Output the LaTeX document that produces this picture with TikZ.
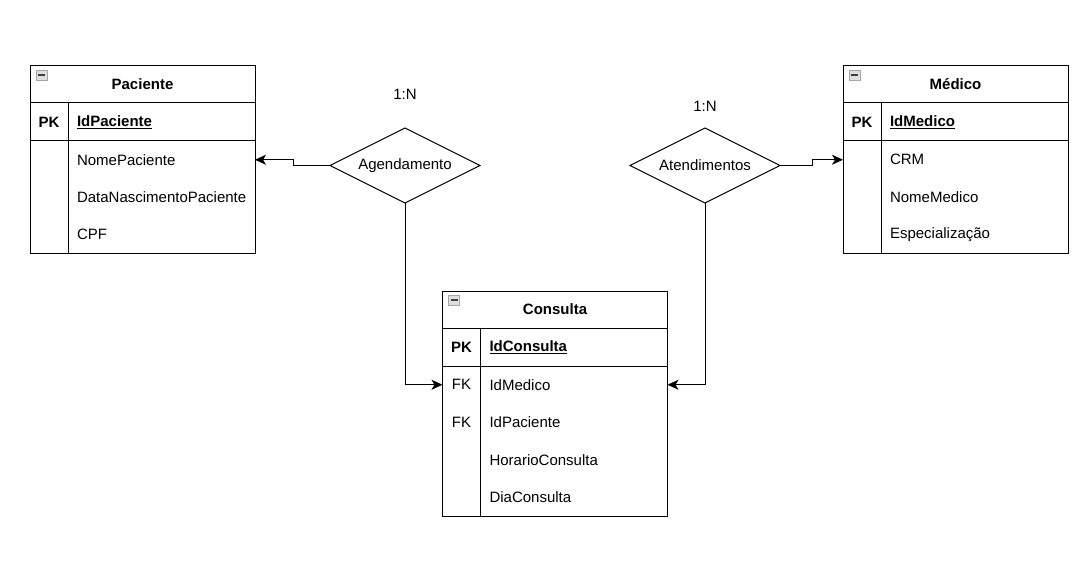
\documentclass[tikz,border=0pt]{standalone}
\usepackage{fontspec}
\setmainfont{Liberation Sans}
\usetikzlibrary{positioning,shapes.geometric,arrows.meta}

\begin{document}
\begin{tikzpicture}[x=1pt, y=-1pt, line width=1pt,
  every node/.style={font=\fontsize{15}{18}\selectfont, inner sep=0pt, outer sep=0pt},
  title/.style={draw, minimum width=225pt, minimum height=37pt, font=\fontsize{15}{18}\selectfont\bfseries},
  keycell/.style={minimum width=38pt, minimum height=37.5pt},
  pkcell/.style={keycell, minimum height=38pt, font=\fontsize{15}{18}\selectfont\bfseries},
  field/.style={text width=178pt, minimum height=37.5pt, align=left},
  pkfield/.style={field, minimum height=38pt, font=\fontsize{15}{18}\selectfont\bfseries},
  icon/.style={draw=gray!70, fill=gray!25, minimum width=11pt, minimum height=10pt, line width=0.6pt,
    path picture={\draw[gray!50!black, line width=2pt] ([xshift=2pt]path picture bounding box.west) -- ([xshift=-2pt]path picture bounding box.east);}},
  rel/.style={draw, diamond, aspect=2, minimum width=150pt, minimum height=75pt},
  conn/.style={-{Stealth[length=11pt,width=10pt,inset=3pt]}}]
\useasboundingbox (0,0) rectangle (1090,583);

% Paciente
\node[title] (pac) at (142.5,84.5) {Paciente};
\node[icon] (paci) [below right=4pt and 6pt of pac.north west] {};
\node[pkcell] (pacpk) [below right=0pt and 0pt of pac.south west] {PK};
\node[pkfield] (pacid) [right=9pt of pacpk] {\underline{IdPaciente}};
\node[field] (pacnome) [below=0pt of pacid] {NomePaciente};
\node[field] (pacdata) [below=0pt of pacnome] {DataNascimentoPaciente};
\node[field] (paccpf) [below=0pt of pacdata] {CPF};
\draw (pac.north west) rectangle (paccpf.south east);
\draw (pacpk.south west) -- (pacid.south east);
\draw (pacpk.north east) -- (pacpk.east |- paccpf.south);

% Medico
\node[title] (med) at (955.5,84.5) {Médico};
\node[icon] (medi) [below right=4pt and 6pt of med.north west] {};
\node[pkcell] (medpk) [below right=0pt and 0pt of med.south west] {PK};
\node[pkfield] (medid) [right=9pt of medpk] {\underline{IdMedico}};
\node[field] (medcrm) [below=0pt of medid] {CRM};
\node[field] (mednome) [below=0pt of medcrm] {NomeMedico};
\node[field] (medesp) [below=0pt of mednome] {Especialização};
\draw (med.north west) rectangle (medesp.south east);
\draw (medpk.south west) -- (medid.south east);
\draw (medpk.north east) -- (medpk.east |- medesp.south);

% Consulta
\node[title] (con) at (555,309.5) {Consulta};
\node[icon] (coni) [below right=4pt and 6pt of con.north west] {};
\node[pkcell] (conpk) [below right=0pt and 0pt of con.south west] {PK};
\node[pkfield] (conid) [right=9pt of conpk] {\underline{IdConsulta}};
\node[field] (conmed) [below=0pt of conid] {IdMedico};
\node[field] (conpac) [below=0pt of conmed] {IdPaciente};
\node[field] (conhor) [below=0pt of conpac] {HorarioConsulta};
\node[field] (condia) [below=0pt of conhor] {DiaConsulta};
\node[keycell] (confk1) [left=9pt of conmed] {FK};
\node[keycell] (confk2) [left=9pt of conpac] {FK};
\draw (con.north west) rectangle (condia.south east);
\draw (conpk.south west) -- (conid.south east);
\draw (conpk.north east) -- (conpk.east |- condia.south);

% relacionamentos
\node[rel] (agd) at (405,165.5) {Agendamento};
\node[rel] (atd) at (705,165.5) {Atendimentos};
\node (agdcard) at (405,94) {1:N};
\node (atdcard) at (705,106) {1:N};

\draw[conn] (agd.west) -- ++(-37,0) |- (pacnome.east);
\draw[conn] (agd.south) |- (confk1.west);
\draw[conn] (atd.east) -- ++(32,0) |- (med.west |- medcrm);
\draw[conn] (atd.south) |- (conmed.east);
\end{tikzpicture}
\end{document}
